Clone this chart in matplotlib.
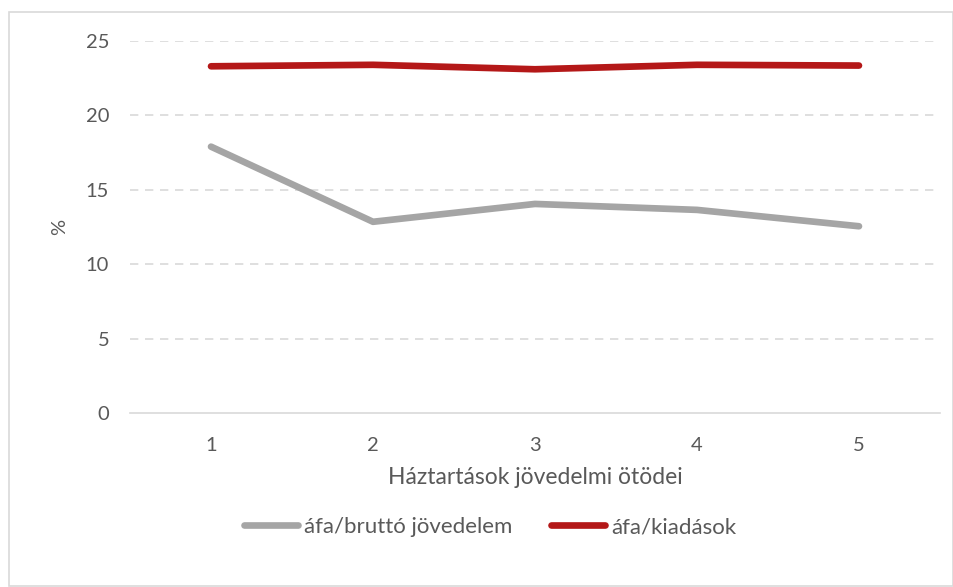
import matplotlib
matplotlib.use("Agg")
import matplotlib.pyplot as plt
from matplotlib.patches import Rectangle

plt.rcParams['font.family'] = ['Lato', 'DejaVu Sans']

# data
quintiles = [1, 2, 3, 4, 5]
afa_brutto = [17.9, 12.85, 14.05, 13.65, 12.55]
afa_kiadas = [23.3, 23.4, 23.1, 23.4, 23.35]
yticks = [0, 5, 10, 15, 20, 25]

txt = '#595959'

fig = plt.figure(figsize=(9.54, 5.87), dpi=100)
ax = fig.add_axes([130/954, 1 - 413/587, 810/954, 372/587])

ax.plot(quintiles, afa_brutto, color='#a5a5a5', lw=4.8, solid_capstyle='round',
        label='áfa/bruttó jövedelem')
ax.plot(quintiles, afa_kiadas, color='#b41818', lw=4.8, solid_capstyle='round',
        label='áfa/kiadások')

ax.set_xlim(0.5, 5.5)
ax.set_ylim(0, 25)
ax.set_xticks(quintiles)
ax.set_yticks(yticks)
for y in yticks[1:]:
    ax.axhline(y, color='#d9d9d9', lw=1.2, ls=(0, (5, 4)), zorder=0)
for s in ['top', 'right', 'left']:
    ax.spines[s].set_visible(False)
ax.spines['bottom'].set_color('#d9d9d9')
ax.spines['bottom'].set_linewidth(1.2)
ax.tick_params(length=0, labelsize=14.5, colors=txt)
ax.tick_params(axis='x', pad=17)
ax.tick_params(axis='y', pad=15)

ax.set_xlabel('Háztartások jövedelmi ötödei', fontsize=16.5, color=txt)
ax.xaxis.set_label_coords(0.5, (413 - 478) / 372)
ax.xaxis.label.set_va('center')
ax.set_ylabel('%', fontsize=14.5, color=txt)
ax.yaxis.set_label_coords((60 - 130) / 810, 0.5)
ax.yaxis.label.set_va('center')

leg = fig.legend(loc='center', bbox_to_anchor=(490/954, 1 - 527/587), ncol=2,
                 frameon=False, fontsize=16, handlelength=2.45, handletextpad=0.27,
                 columnspacing=1.7)
for t in leg.get_texts():
    t.set_color(txt)

fig.patches.append(Rectangle((9/954, 1 - 586/587), 944/954, 574/587,
                             transform=fig.transFigure, fill=False,
                             edgecolor='#d9d9d9', lw=1.2))

fig.savefig('out.png', dpi=100)
